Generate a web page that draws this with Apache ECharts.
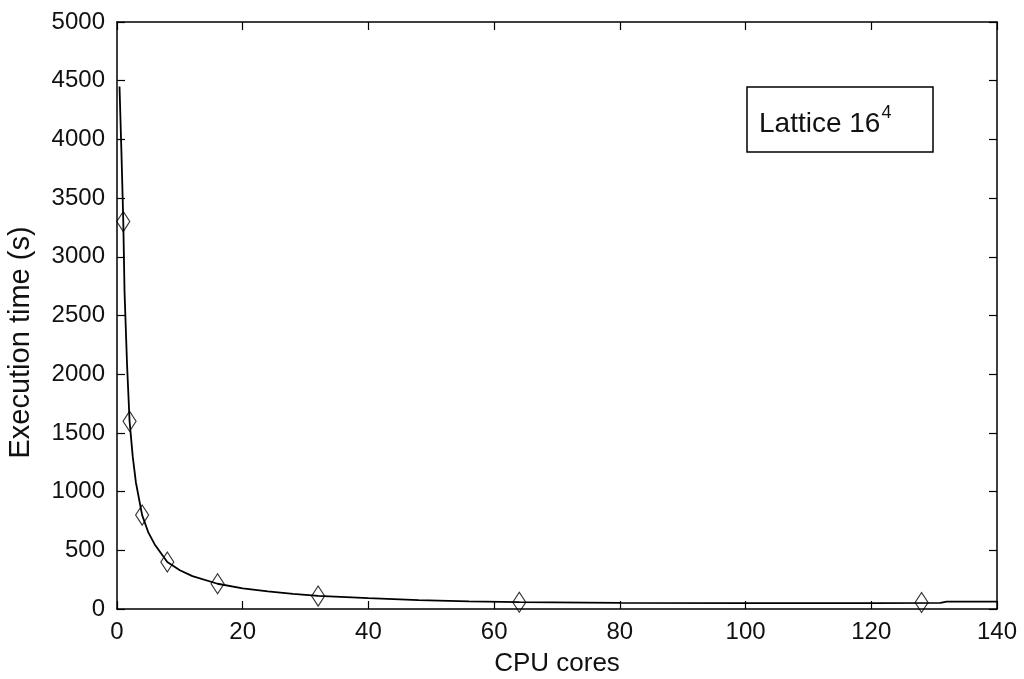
<!DOCTYPE html>
<html>
<head>
<meta charset="utf-8">
<script src="https://cdn.jsdelivr.net/npm/echarts@6/dist/echarts.min.js"></script>
<style>html,body{margin:0;padding:0;background:#fff}#c{width:1024px;height:679px}</style>
</head>
<body>
<div id="c"></div>
<script>
// Measured execution times (diamond markers)
var coresX = [1, 2, 4, 8, 16, 32, 64, 128];
var timeY = [3300, 1600, 800, 400, 215, 110, 58, 55];
// Fitted curve
var fitX = [0.4, 0.7, 1, 1.2, 1.6, 2, 2.5, 3, 4, 5, 6, 8, 10, 12, 16, 20, 24, 28, 32, 40, 48, 56, 64, 80, 100, 120, 131, 132, 140];
var fitY = [4450, 3900, 3300, 2700, 2080, 1600, 1300, 1080, 800, 650, 550, 400, 330, 280, 215, 175, 150, 128, 112, 92, 76, 65, 58, 52, 50, 50, 52, 62, 62];
var xTicks = [0, 20, 40, 60, 80, 100, 120, 140];
var yTicks = [0, 500, 1000, 1500, 2000, 2500, 3000, 3500, 4000, 4500, 5000];
var xName = 'CPU cores';
var yName = 'Execution time (s)';
var legendBase = 'Lattice 16';
var legendSup = '4';

var font = 'Liberation Sans, Arial, sans-serif';
var chart = echarts.init(document.getElementById('c'));
var axisLine = {show: true, onZero: false, lineStyle: {color: '#000', width: 1.5}};
var tick = {show: true, inside: true, length: 8, lineStyle: {color: '#000', width: 1.2}};
function pairs(xs, ys) { return xs.map(function (x, i) { return [x, ys[i]]; }); }
function plain(v) { return String(v); }
chart.setOption({
  animation: false,
  backgroundColor: '#fff',
  title: {
    text: '{a|' + legendBase + '}{b|' + legendSup + '}',
    left: 747, top: 87,
    borderColor: '#000', borderWidth: 1.5,
    padding: [17, 42, 14, 12],
    textStyle: {
      fontWeight: 'normal',
      rich: {
        a: {fontFamily: font, fontSize: 28, fontWeight: 'normal', color: '#111', verticalAlign: 'bottom'},
        b: {fontFamily: font, fontSize: 18, fontWeight: 'normal', color: '#111', verticalAlign: 'top', padding: [0, 0, 16, 1]}
      }
    }
  },
  grid: {left: 117, right: 27, top: 22, bottom: 70, containLabel: false, outerBoundsMode: 'none'},
  xAxis: [{
    type: 'value', min: xTicks[0], max: xTicks[xTicks.length - 1], interval: 20,
    axisLine: axisLine, axisTick: tick, splitLine: {show: false},
    axisLabel: {fontFamily: font, fontSize: 24, color: '#111', margin: 11, formatter: plain},
    name: xName, nameLocation: 'middle', nameGap: 42,
    nameTextStyle: {fontFamily: font, fontSize: 26, color: '#111'}
  }, {
    type: 'value', position: 'top', min: 0, max: 140, interval: 20,
    axisLine: axisLine, axisTick: tick, axisLabel: {show: false}, splitLine: {show: false}
  }],
  yAxis: [{
    type: 'value', min: yTicks[0], max: yTicks[yTicks.length - 1], interval: 500,
    axisLine: axisLine, axisTick: tick, splitLine: {show: false},
    axisLabel: {fontFamily: font, fontSize: 24, color: '#111', margin: 12, formatter: plain},
    name: yName, nameLocation: 'middle', nameGap: 82,
    nameTextStyle: {fontFamily: font, fontSize: 29, color: '#111', padding: [0, 54, 0, 0]}
  }, {
    type: 'value', position: 'right', min: 0, max: 5000, interval: 500,
    axisLine: axisLine, axisTick: tick, axisLabel: {show: false}, splitLine: {show: false}
  }],
  series: [{
    type: 'line', data: pairs(fitX, fitY), showSymbol: false, symbol: 'none',
    lineStyle: {color: '#000', width: 1.8}, z: 2
  }, {
    type: 'scatter', data: pairs(coresX, timeY), symbol: 'diamond', symbolSize: [13, 20],
    itemStyle: {color: 'rgba(0,0,0,0)', borderColor: '#000', borderWidth: 1.2}, z: 3
  }]
});
</script>
</body>
</html>
